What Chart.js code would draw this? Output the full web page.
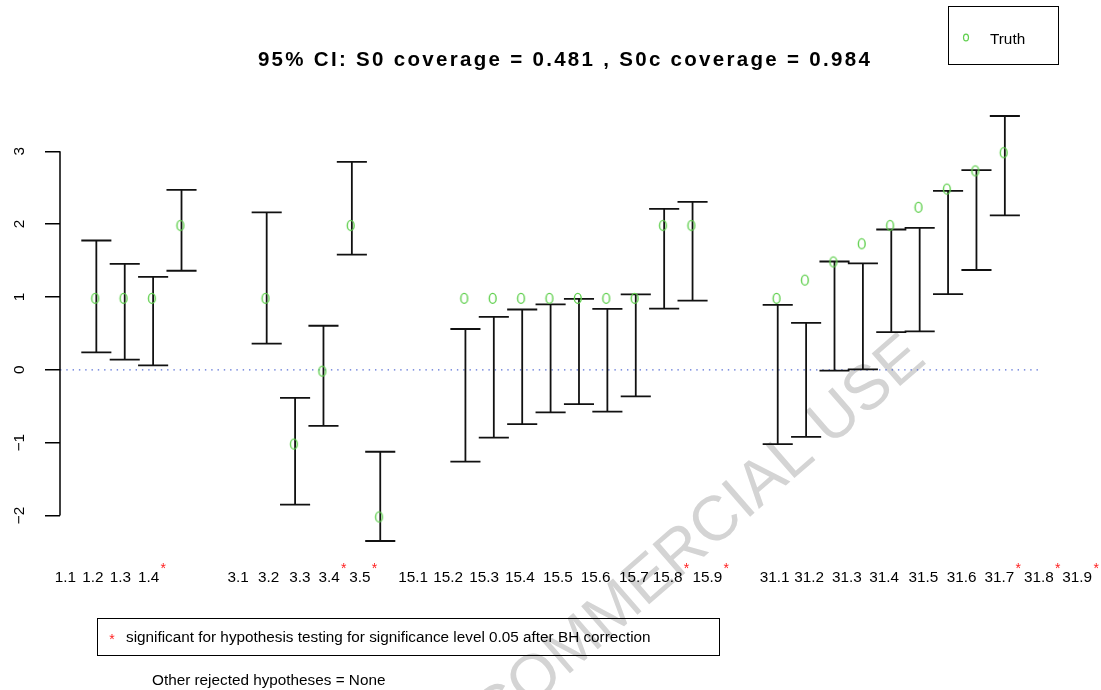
<!DOCTYPE html>
<html>
<head>
<meta charset="utf-8">
<script src="https://cdn.jsdelivr.net/npm/chart.js@4/dist/chart.umd.min.js"></script>
<style>
html,body{margin:0;padding:0;background:#fff;}
canvas{display:block;}
</style>
</head>
<body>
<canvas id="c" width="1101" height="690"></canvas>
<script>
// ---------------- data ----------------
const groupSizes = [4, 5, 9, 9];
const categories = ['1.1','1.2','1.3','1.4',
  '3.1','3.2','3.3','3.4','3.5',
  '15.1','15.2','15.3','15.4','15.5','15.6','15.7','15.8','15.9',
  '31.1','31.2','31.3','31.4','31.5','31.6','31.7','31.8','31.9'];
const lower = [0.24, 0.14, 0.06, 1.36,
  0.36, -1.85, -0.77, 1.58, -2.35,
  -1.26, -0.93, -0.745, -0.585, -0.47, -0.575, -0.365, 0.84, 0.95,
  -1.02, -0.92, -0.01, 0.005, 0.517, 0.527, 1.04, 1.37, 2.12];
const upper = [1.775, 1.455, 1.275, 2.47,
  2.16, -0.385, 0.605, 2.855, -1.125,
  0.56, 0.727, 0.828, 0.897, 0.975, 0.837, 1.035, 2.21, 2.305,
  0.89, 0.645, 1.487, 1.46, 1.926, 1.948, 2.455, 2.74, 3.484];
const truth = [1, 1, 1, 2,
  1, -1, 0, 2, -2,
  1, 1, 1, 1, 1, 1, 1, 2, 2,
  1, 1.25, 1.5, 1.75, 2, 2.25, 2.5, 2.75, 3];
const significant = ['1.4','3.4','3.5','15.8','15.9','31.7','31.8','31.9'];
const yTicks = [-2, -1, 0, 1, 2, 3];
// where the category labels sit along the x axis (axis units)
const labelAt = [-1.09, -0.12, 0.85, 1.84,
  4.99, 6.07, 7.17, 8.20, 9.28,
  11.16, 12.39, 13.66, 14.92, 16.26, 17.59, 18.93, 20.12, 21.52,
  23.89, 25.11, 26.44, 27.75, 29.13, 30.48, 31.81, 33.20, 34.55];
const titleText = '95% CI: S0 coverage = 0.481 , S0c coverage = 0.984';
const legendText = 'Truth';
const noteText = 'significant for hypothesis testing for significance level 0.05 after BH correction';
const otherText = 'Other rejected hypotheses = None';
const watermarkText = 'NON-COMMERCIAL USE';

// ---------------- derived positions ----------------
const GAP = 2;
const xs = [];
{ let s = 0; groupSizes.forEach(n => { for (let k = 0; k < n; k++) xs.push(s++); s += GAP; }); }
const xr = [Math.min(...xs), Math.max(...xs)];
const xLo = xr[0] - 0.04 * (xr[1] - xr[0]);
const xHi = xr[1] + 0.04 * (xr[1] - xr[0]);
const yr = [Math.min(...lower, ...truth), Math.max(...upper, ...truth)];
const yLo = yr[0] - 0.04 * (yr[1] - yr[0]);
const yHi = yr[1] + 0.04 * (yr[1] - yr[0]);

const FONT = "'Liberation Sans', Arial, Helvetica, sans-serif";
const GREEN = '#61D04F';
const RED = '#ff2020';
const CAP = 0.53;

const ciPts = [];
xs.forEach((x, i) => {
  ciPts.push({x: x - CAP, y: upper[i]}, {x: x + CAP, y: upper[i]}, {x: x, y: null},
             {x: x, y: upper[i]}, {x: x, y: lower[i]}, {x: x, y: null},
             {x: x - CAP, y: lower[i]}, {x: x + CAP, y: lower[i]}, {x: x, y: null});
});

// marker glyph (green "0")
const oImg = document.createElement('canvas');
oImg.width = 14; oImg.height = 18;
{ const g = oImg.getContext('2d'); g.strokeStyle = GREEN; g.lineWidth = 1.4;
  g.beginPath(); g.ellipse(5.8, 10.4, 3.4, 5.0, 0, 0, Math.PI * 2); g.stroke(); }

const decor = {
  id: 'decor',
  beforeDraw(chart) {
    const ctx = chart.ctx;
    ctx.save();
    ctx.fillStyle = '#fff';
    ctx.fillRect(0, 0, chart.width, chart.height);
    // watermark
    ctx.translate(928, 362);
    ctx.rotate(-41 * Math.PI / 180);
    ctx.font = '63px ' + FONT;
    ctx.fillStyle = '#d4d4d4';
    ctx.textAlign = 'right';
    ctx.textBaseline = 'alphabetic';
    ctx.fillText(watermarkText, 0, 0);
    ctx.restore();
  },
  afterDraw(chart) {
    const ctx = chart.ctx;
    const ys = chart.scales.y, xsS = chart.scales.x;
    ctx.save();
    // y axis line from first to last tick
    ctx.strokeStyle = '#000'; ctx.lineWidth = 1.5;
    ctx.beginPath();
    ctx.moveTo(chart.chartArea.left, ys.getPixelForValue(yTicks[yTicks.length - 1]));
    ctx.lineTo(chart.chartArea.left, ys.getPixelForValue(yTicks[0]));
    ctx.stroke();

    // asterisks on significant labels
    const lblFont = '15.3px ' + FONT;
    categories.forEach((c, i) => {
      if (!significant.includes(c)) return;
      ctx.font = lblFont;
      const w = ctx.measureText(c).width;
      const px = xsS.getPixelForValue(labelAt[i]);
      ctx.font = '14px ' + FONT;
      ctx.fillStyle = RED; ctx.textAlign = 'center'; ctx.textBaseline = 'alphabetic';
      ctx.fillText('*', px + w / 2 + 4, 573);
    });

    // title
    ctx.font = 'bold 20.5px ' + FONT;
    ctx.letterSpacing = '2.3px';
    ctx.fillStyle = '#000'; ctx.textAlign = 'left'; ctx.textBaseline = 'alphabetic';
    const tw = ctx.measureText(titleText).width;
    ctx.fillText(titleText, 565 - tw / 2, 65.5);
    ctx.letterSpacing = '0px';

    // top-right legend
    ctx.strokeStyle = '#000'; ctx.lineWidth = 1;
    ctx.strokeRect(948.5, 6.5, 110, 58);
    ctx.strokeStyle = GREEN; ctx.lineWidth = 1.2;
    ctx.beginPath(); ctx.ellipse(966, 37.5, 2.5, 3.3, 0, 0, Math.PI * 2); ctx.stroke();
    ctx.font = '15.3px ' + FONT; ctx.fillStyle = '#000';
    ctx.fillText(legendText, 990, 43.5);

    // bottom legend box
    ctx.strokeStyle = '#000'; ctx.lineWidth = 1;
    ctx.strokeRect(97.5, 618.5, 622, 37);
    ctx.font = '14px ' + FONT; ctx.fillStyle = RED; ctx.textAlign = 'center';
    ctx.fillText('*', 112, 644);
    ctx.font = '15.3px ' + FONT; ctx.fillStyle = '#000'; ctx.textAlign = 'left';
    ctx.fillText(noteText, 126, 642);
    ctx.fillText(otherText, 152, 685);
    ctx.restore();
  }
};

new Chart(document.getElementById('c'), {
  type: 'scatter',
  data: {
    datasets: [
      { label: 'Truth', data: xs.map((x, i) => ({x: x, y: truth[i]})),
        pointStyle: oImg, pointRadius: 5, showLine: false },
      { label: 'CI', data: ciPts, showLine: true, spanGaps: false,
        borderColor: '#111', borderWidth: 1.8, pointRadius: 0, pointHoverRadius: 0 },
      { label: 'zero', data: [{x: xLo, y: 0}, {x: xHi, y: 0}], showLine: true,
        borderColor: 'rgba(70,95,210,0.9)', borderWidth: 1.3, borderDash: [1.4, 4.9],
        pointRadius: 0 }
    ]
  },
  options: {
    responsive: false,
    animation: false,
    devicePixelRatio: 1,
    layout: { padding: { top: 99, right: 58, left: 0, bottom: 0 } },
    plugins: { legend: { display: false }, tooltip: { enabled: false }, title: { display: false } },
    scales: {
      x: {
        type: 'linear', min: xLo, max: xHi,
        grid: { display: false, drawTicks: false },
        border: { display: false },
        afterBuildTicks: ax => { ax.ticks = labelAt.map(v => ({value: v})); },
        afterFit: s => { s.height = 132; },
        ticks: {
          autoSkip: false, maxRotation: 0, minRotation: 0, padding: 11,
          color: '#000', font: { family: FONT, size: 15.3 },
          callback: (v, i) => categories[i]
        }
      },
      y: {
        type: 'linear', min: yLo, max: yHi, position: 'left',
        grid: { drawOnChartArea: false, drawTicks: true, tickLength: 15, color: '#000', lineWidth: 1.5 },
        border: { display: false },
        afterBuildTicks: ax => { ax.ticks = yTicks.map(v => ({value: v})); },
        afterFit: s => { s.width = 60; },
        ticks: {
          minRotation: 90, maxRotation: 90, crossAlign: 'center', padding: 17,
          color: '#000', font: { family: FONT, size: 15.3 },
          callback: v => v < 0 ? '\u2212' + Math.abs(v) : String(v)
        }
      }
    }
  },
  plugins: [decor]
});
</script>
</body>
</html>
